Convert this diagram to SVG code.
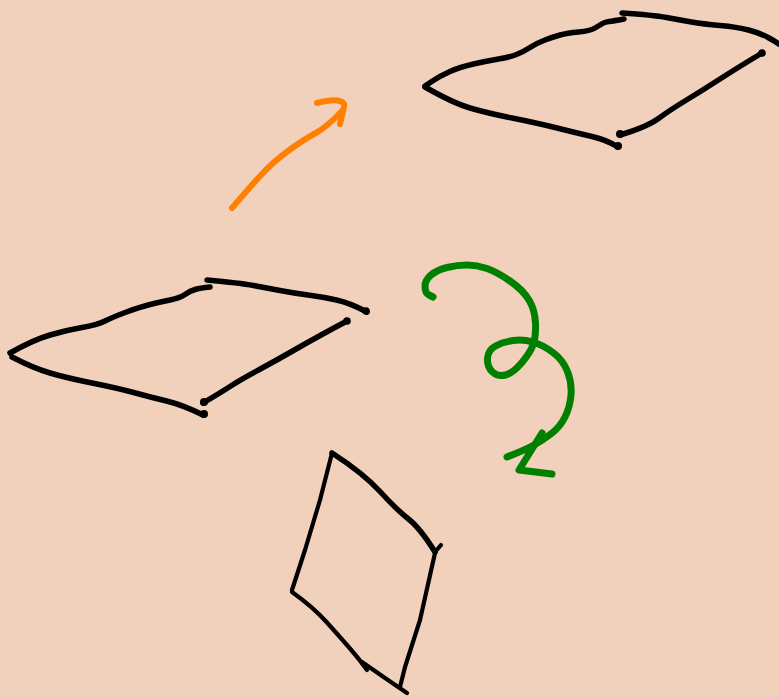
<svg xmlns="http://www.w3.org/2000/svg" width="779" height="697" viewBox="0 0 779 697">
<style>
.s{fill:none;stroke-linecap:round;stroke-linejoin:round}
.k{stroke:#000;stroke-width:5.5}
.k4{stroke:#000;stroke-width:4.2}
.o{stroke:#ff8000;stroke-width:6}
.g{stroke:#008000;stroke-width:7}
.d{fill:#000}
</style>
<rect width="779" height="697" fill="#f2d1bc"/>
<g id="plane-top-right">
<path class="s k" d="M425,86 L432.5,81 Q440,76 450,71.5 Q460,67 473.5,64 Q487,61 498.5,59 Q510,57 516.5,54.5 Q523,52 530,47.5 Q537,43 545,40 Q553,37 560,35 Q567,33 578.5,32 Q590,31 595,28 Q600,25 602.5,23.5 Q605,22 609,21.5 Q613,21 624,19"/>
<path class="s k" d="M622,13 Q653,15 666.5,17.5 Q680,20 691.5,22 Q703,24 720,25.5 Q737,27 748.5,30 Q760,33 769,38 Q778,43 782,46"/>
<path class="s k" d="M762,53 Q737,68 720,79 Q703,90 686.5,100 Q670,110 658.5,118.5 Q647,127 620,135"/>
<path class="s k" d="M425,87 Q453,103 470,108 Q487,113 512,118 Q537,123 557,128 Q577,133 592,136.5 Q607,140 618,147"/>
<circle class="d" cx="620" cy="134" r="4"/>
<circle class="d" cx="618" cy="146" r="4"/>
<circle class="d" cx="762" cy="53" r="3.8"/>
</g>
<g id="plane-left">
<path class="s k" d="M10,353 Q33,340 50,335 Q67,330 82,327.5 Q97,325 105,321 Q113,317 126.5,312 Q140,307 150,304.5 Q160,302 170,300 Q180,298 185,294.5 Q190,291 195,289.5 Q200,288 210,287"/>
<path class="s k" d="M207,280 Q240,283 253.5,285.5 Q267,288 280,290.5 Q293,293 308,295 Q323,297 336.5,300 Q350,303 367,312"/>
<path class="s k" d="M347,321 Q317,337 297,348.5 Q277,360 258.5,370 Q240,380 230,386.5 Q220,393 203,403"/>
<path class="s k" d="M12,357 Q33,368 50,373 Q67,378 92,383 Q117,388 133.5,392.5 Q150,397 166.5,401 Q183,405 203,415"/>
<circle class="d" cx="204" cy="402" r="4"/>
<circle class="d" cx="204" cy="414" r="4"/>
<circle class="d" cx="347" cy="321" r="3.8"/>
<circle class="d" cx="366" cy="311" r="3.8"/>
</g>
<g id="diamond">
<path class="s k" d="M332,453 Q363,473 380,491.5 Q397,510 408.5,519 Q420,528 435,552"/>
<polyline class="s k4" points="435,552 441,545"/>
<polyline class="s k4" points="332,453 320,500 305,550 292,590"/>
<path class="s k4" d="M292,592 Q313,607 326.5,622 Q340,637 350,648.5 Q360,660 367,670"/>
<polyline class="s k4" points="435,553 420,620 405,667 400,687"/>
<polyline class="s k4" points="362,662 385,678 407,693"/>
</g>
<g id="connectors">
<path class="s o" d="M232,208 Q250,187 261.5,174.5 Q273,162 288,151 Q303,140 315,133.5 Q327,127 343,110"/>
<path class="s o" d="M317,103 C333,99 346,99 344,107 L340,124"/>
<path class="s g" d="M433,297 L429,295 Q425,293 425,286.5 Q425,280 431,275 Q437,270 447,267.5 Q457,265 467,265 Q477,265 487,268.5 Q497,272 510,281 Q523,290 529,300 Q535,310 535.5,323.5 Q536,337 533,345 Q530,353 521.5,363 Q513,373 505.5,375 Q498,377 492.5,372 Q487,367 487.5,358.5 Q488,350 495.5,346 Q503,342 513,340.5 Q523,339 533,342 Q543,345 553,352.5 Q563,360 567.5,371.5 Q572,383 571,395 Q570,407 565,417 Q560,427 551.5,433.5 Q543,440 534,445 Q525,450 507,457"/>
<polyline class="s g" points="542,433 519,470 552,474"/>
</g>
</svg>
